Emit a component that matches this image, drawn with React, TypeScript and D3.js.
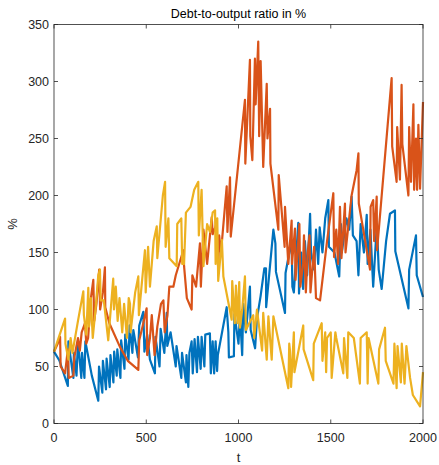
import React from 'react';
import * as d3 from 'd3';

// series, [t, value %]
const blueSeries: [number, number][] = [
  [0, 63], [30, 55], [40, 50], [75, 33], [78, 72], [105, 40], [108, 62], [122, 42], [130, 72],
  [148, 40], [152, 62], [165, 40], [170, 72], [205, 42], [240, 20], [244, 50], [262, 27],
  [265, 55], [282, 30], [285, 57], [302, 32], [306, 60], [322, 36], [326, 63], [340, 42],
  [343, 65], [360, 40], [364, 73], [382, 48], [386, 78], [404, 56], [410, 86], [425, 62],
  [430, 82], [455, 58], [462, 86], [484, 98], [490, 63], [505, 78], [520, 56], [547, 44],
  [550, 76], [572, 50], [578, 83], [598, 62], [611, 97], [614, 68], [632, 80], [660, 50],
  [664, 68], [690, 40], [694, 62], [715, 36], [718, 60], [728, 32], [734, 62], [746, 72],
  [752, 44], [762, 74], [775, 45], [780, 76], [795, 48], [800, 76], [815, 50], [820, 78],
  [845, 79], [850, 44], [860, 72], [868, 44], [876, 72], [884, 46], [888, 60], [936, 102],
  [945, 80], [948, 58], [975, 59], [978, 96], [1000, 70], [1008, 96], [1020, 60], [1026, 105],
  [1040, 80], [1062, 120], [1066, 82], [1090, 66], [1100, 92], [1120, 112], [1140, 136],
  [1149, 136], [1150, 102], [1189, 170], [1200, 158], [1203, 133], [1252, 97], [1255, 132],
  [1288, 161], [1292, 120], [1300, 115], [1324, 176], [1328, 114], [1340, 150], [1350, 118],
  [1360, 160], [1372, 130], [1388, 184], [1393, 150], [1410, 135], [1420, 170], [1432, 140],
  [1440, 172], [1455, 150], [1470, 180], [1487, 196], [1490, 155], [1520, 150], [1546, 129],
  [1555, 175], [1560, 150], [1585, 180], [1600, 170], [1613, 199], [1620, 165], [1640, 160],
  [1650, 130], [1662, 175], [1680, 150], [1695, 183], [1700, 140], [1715, 170], [1730, 120],
  [1750, 175], [1760, 135], [1776, 118], [1800, 160], [1821, 184], [1848, 187], [1850, 151],
  [1921, 101], [1925, 135], [1962, 165], [1966, 130], [2000, 111],
];

const orangeSeries: [number, number][] = [
  [0, 63], [20, 70], [33, 76], [36, 50], [60, 44], [75, 65], [80, 40], [105, 42], [110, 58],
  [130, 75], [140, 64], [150, 80], [168, 88], [175, 70], [185, 75], [200, 110], [213, 126],
  [218, 90], [230, 105], [245, 135], [250, 100], [265, 115], [276, 137], [278, 102], [300, 88],
  [358, 67], [400, 55], [457, 47], [462, 73], [480, 85], [502, 101], [505, 60], [520, 75],
  [530, 95], [545, 60], [560, 85], [580, 105], [593, 108], [600, 80], [615, 95], [625, 120],
  [647, 120], [660, 130], [701, 152], [705, 138], [720, 110], [746, 100], [750, 130],
  [770, 120], [791, 158], [796, 120], [810, 170], [830, 140], [855, 181], [860, 166],
  [880, 175], [890, 135], [895, 165], [905, 150], [936, 208], [940, 168], [954, 216],
  [958, 164], [1035, 284], [1037, 228], [1062, 319], [1064, 252], [1075, 231], [1089, 320],
  [1093, 280], [1107, 335], [1112, 252], [1120, 318], [1134, 225], [1153, 298], [1157, 250],
  [1171, 276], [1173, 228], [1216, 170], [1218, 218], [1250, 155], [1252, 190], [1270, 140],
  [1288, 178], [1290, 140], [1306, 171], [1309, 126], [1320, 150], [1330, 175], [1335, 120],
  [1350, 140], [1355, 165], [1365, 115], [1375, 150], [1385, 165], [1390, 115], [1410, 155],
  [1420, 110], [1442, 108], [1480, 160], [1514, 202], [1518, 146], [1530, 170], [1540, 140],
  [1550, 190], [1558, 145], [1577, 193], [1580, 150], [1613, 200], [1640, 222], [1650, 237],
  [1652, 193], [1713, 135], [1716, 190], [1730, 196], [1735, 160], [1749, 199], [1751, 152],
  [1830, 303], [1833, 243], [1857, 212], [1860, 260], [1875, 214], [1884, 297], [1888, 245],
  [1921, 200], [1925, 260], [1935, 212], [1948, 280], [1952, 205], [1962, 250], [1968, 205],
  [1975, 262], [1984, 206], [2000, 282],
];

const yellowSeries: [number, number][] = [
  [0, 63], [60, 92], [62, 70], [78, 56], [90, 75], [100, 62], [130, 90], [159, 116], [162, 95],
  [175, 78], [186, 119], [190, 85], [200, 110], [210, 75], [225, 100], [240, 130], [249, 135],
  [253, 108], [270, 108], [294, 73], [300, 85], [321, 127], [325, 100], [335, 120], [345, 90],
  [355, 110], [370, 80], [380, 105], [395, 75], [405, 110], [412, 105], [415, 80], [440, 115],
  [457, 129], [460, 95], [480, 130], [493, 152], [497, 115], [510, 155], [520, 120], [540, 160],
  [557, 173], [560, 145], [590, 200], [602, 212], [605, 155], [620, 180], [625, 145],
  [665, 138], [668, 175], [690, 180], [695, 140], [705, 140], [715, 185], [740, 190],
  [760, 205], [782, 212], [785, 165], [800, 205], [810, 138], [830, 175], [845, 168],
  [860, 185], [873, 187], [876, 140], [885, 180], [890, 125], [910, 161], [918, 129],
  [963, 91], [966, 125], [980, 88], [986, 121], [995, 88], [1004, 124], [1008, 84], [1020, 100],
  [1035, 129], [1040, 82], [1080, 95], [1085, 75], [1100, 100], [1128, 64], [1134, 97],
  [1153, 56], [1162, 94], [1180, 56], [1189, 94], [1270, 31], [1275, 70], [1279, 64],
  [1285, 32], [1300, 80], [1303, 45], [1351, 86], [1353, 65], [1405, 38], [1408, 70],
  [1451, 88], [1455, 55], [1470, 80], [1475, 45], [1480, 75], [1500, 80], [1505, 40],
  [1525, 80], [1530, 75], [1568, 44], [1572, 75], [1590, 40], [1595, 80], [1625, 75],
  [1658, 35], [1662, 75], [1695, 80], [1700, 35], [1705, 75], [1758, 35], [1762, 65],
  [1794, 84], [1798, 55], [1840, 35], [1845, 70], [1857, 31], [1862, 68], [1880, 36],
  [1885, 70], [1900, 35], [1910, 68], [1930, 40], [1945, 25], [1984, 15], [2000, 45],
];

const xTicks = [0, 500, 1000, 1500, 2000];
const yTicks = [0, 50, 100, 150, 200, 250, 300, 350];
const colors = ['#0072BD', '#D95319', '#EDB120'];

export default function App() {
  const width = 439;
  const height = 465;
  const margin = { top: 24.5, right: 16, bottom: 41.5, left: 54 };
  const innerW = width - margin.left - margin.right;
  const innerH = height - margin.top - margin.bottom;

  const x = d3.scaleLinear().domain([0, 2000]).range([0, innerW]);
  const y = d3.scaleLinear().domain([0, 350]).range([innerH, 0]);
  const line = d3.line<[number, number]>().x(d => x(d[0])).y(d => y(d[1]));

  const axisColor = '#262626';
  const font = 'Liberation Sans, Arial, Helvetica, sans-serif';
  const tickLen = 4;

  return (
    <div style={{ position: 'fixed', left: 0, top: 0, background: '#fff' }}>
      <svg width={width} height={height} style={{ display: 'block' }}>
        <rect width={width} height={height} fill="#fff" />
        <g transform={`translate(${margin.left},${margin.top})`}>
          {[blueSeries, orangeSeries, yellowSeries].map((s, i) => (
            <path key={i} d={line(s) || ''} fill="none" stroke={colors[i]}
              strokeWidth={2.2} strokeLinejoin="round" />
          ))}

          {/* box */}
          <rect x={0} y={0} width={innerW} height={innerH} fill="none"
            stroke={axisColor} strokeWidth={0.8} />

          {xTicks.map(t => (
            <g key={'x' + t}>
              <line x1={x(t)} x2={x(t)} y1={innerH} y2={innerH - tickLen} stroke={axisColor} strokeWidth={0.8} />
              <line x1={x(t)} x2={x(t)} y1={0} y2={tickLen} stroke={axisColor} strokeWidth={0.8} />
              <text x={x(t)} y={innerH + 18} textAnchor="middle" fontSize={12.5}
                fontFamily={font} fill={axisColor}>{t}</text>
            </g>
          ))}
          {yTicks.map(t => (
            <g key={'y' + t}>
              <line x1={0} x2={tickLen} y1={y(t)} y2={y(t)} stroke={axisColor} strokeWidth={0.8} />
              <line x1={innerW} x2={innerW - tickLen} y1={y(t)} y2={y(t)} stroke={axisColor} strokeWidth={0.8} />
              <text x={-5} y={y(t) + 4.5} textAnchor="end" fontSize={12.5}
                fontFamily={font} fill={axisColor}>{t}</text>
            </g>
          ))}

          <text x={innerW / 2} y={-6.5} textAnchor="middle" fontSize={12.5}
            fontFamily={font} fill="#000">Debt-to-output ratio in %</text>
          <text x={innerW / 2} y={innerH + 38} textAnchor="middle" fontSize={13}
            fontFamily={font} fill={axisColor}>t</text>
          <text transform={`translate(${-37},${innerH / 2}) rotate(-90)`} textAnchor="middle"
            fontSize={13} fontFamily={font} fill={axisColor}>%</text>
        </g>
      </svg>
    </div>
  );
}
